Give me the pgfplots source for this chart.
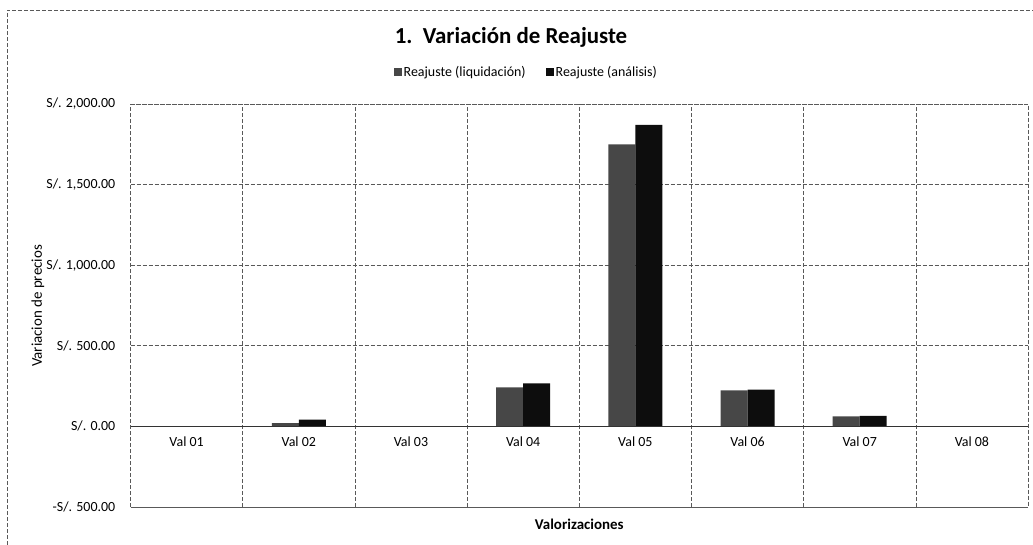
\documentclass[border=0pt]{standalone}
\usepackage{pgfplots}
\pgfplotsset{compat=1.18}
\usepackage{fontspec}
\setmainfont{Carlito}

\definecolor{liq}{gray}{0.28}
\definecolor{ana}{gray}{0.05}
\definecolor{gridc}{gray}{0.35}

\begin{document}
\begin{tikzpicture}
\useasboundingbox (0bp,0bp) rectangle (1033bp,545bp);
% outer frame of the chart (only top and left survive in the scan)
\draw[gridc, line width=0.6bp, dash pattern=on 4bp off 2bp] (7bp,0bp) -- (7bp,535bp) -- (1033bp,535bp);
\node[font=\fontsize{23}{27}\selectfont\bfseries] at (511bp,508bp) {1.\ \ Variación de Reajuste};
\node[font=\fontsize{15}{18}\selectfont, rotate=90] at (38bp,239bp) {Variacion de precios};

\begin{axis}[
    at={(130.5bp,38bp)}, anchor=south west,
    width=897.5bp, height=403bp, scale only axis,
    ybar=0pt, bar width=27bp,
    xmin=0, xmax=8,
    ymin=-500, ymax=2000,
    xtick={0.5,1.5,2.5,3.5,4.5,5.5,6.5,7.5},
    xticklabels={Val 01,Val 02,Val 03,Val 04,Val 05,Val 06,Val 07,Val 08},
    minor xtick={1,2,3,4,5,6,7},
    ytick={-500,0,500,1000,1500,2000},
    yticklabels={{-S/. 500.00},{S/. 0.00},{S/. 500.00},{S/. 1,000.00},{S/. 1,500.00},{S/. 2,000.00}},
    major tick length=0pt, minor tick length=0pt,
    xmajorgrids=false, xminorgrids=true, ymajorgrids=true,
    grid style={gridc, line width=0.6bp, dash pattern=on 4bp off 2bp},
    minor grid style={gridc, line width=0.6bp, dash pattern=on 4bp off 2bp},
    axis line style={gridc, line width=0.6bp, dash pattern=on 4bp off 2bp},
    tick label style={font=\fontsize{14}{17}\selectfont},
    yticklabel style={inner sep=0pt, xshift=-15bp},
    xticklabel style={anchor=center, inner sep=0pt, yshift=65bp},
    xlabel={\bfseries Valorizaciones},
    xlabel style={font=\fontsize{15}{18}\selectfont, at={(0.5,-0.042)}, anchor=center},
    legend style={at={(0.441,1.08)}, anchor=center, draw=none, fill=none,
        legend columns=2, font=\fontsize{14}{17}\selectfont,
        /tikz/every even column/.append style={column sep=18bp}},
    legend image code/.code={\fill[#1] (0bp,-4bp) rectangle (8bp,4bp);},
    clip=false,
]
\addplot[fill=liq, draw=none] coordinates {
    (0.5,0) (1.5,20) (2.5,0) (3.5,242) (4.5,1750) (5.5,223) (6.5,62) (7.5,0)
};
\addlegendentry{Reajuste (liquidación)}
\addplot[fill=ana, draw=none] coordinates {
    (0.5,0) (1.5,42) (2.5,0) (3.5,267) (4.5,1871) (5.5,228) (6.5,66) (7.5,0)
};
\addlegendentry{Reajuste (análisis)}
\draw[black!80, line width=0.8bp] (axis cs:0,0) -- (axis cs:8,0);
\end{axis}
\end{tikzpicture}
\end{document}
